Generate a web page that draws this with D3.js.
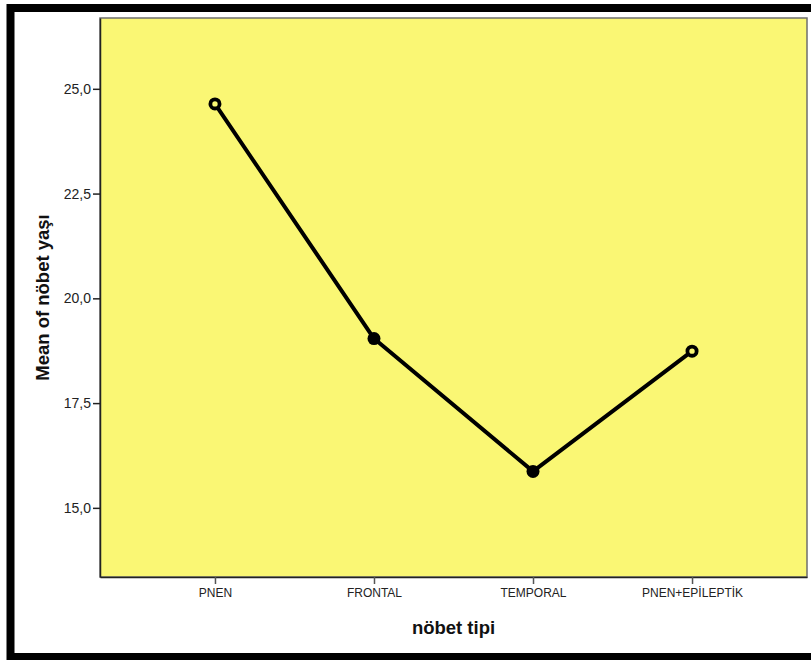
<!DOCTYPE html>
<html>
<head>
<meta charset="utf-8">
<script src="https://cdn.jsdelivr.net/npm/d3@7"></script>
<style>
  html, body { margin: 0; padding: 0; background: #fff; }
  svg { display: block; }
  text { font-family: "Liberation Sans", Arial, sans-serif; }
</style>
</head>
<body>
<script>
// Mean age at seizure onset by seizure type
const categories = ["PNEN", "FRONTAL", "TEMPORAL", "PNEN+EPİLEPTİK"];
const meanAge = [24.64, 19.04, 15.87, 18.74];
const hollowMarker = [true, false, false, true];
const yTicks = [15, 17.5, 20, 22.5, 25];
const xTitle = "nöbet tipi";
const yTitle = "Mean of nöbet yaşı";

const W = 811, H = 660;
const plot = { left: 100, right: 807, top: 18, bottom: 577 };

const svg = d3.select("body").append("svg")
  .attr("width", W).attr("height", H);

// Outer frame
svg.append("rect")
  .attr("x", 10.5).attr("y", 8)
  .attr("width", 830).attr("height", 649)
  .attr("fill", "#fff")
  .attr("stroke", "#000")
  .attr("stroke-width", 8);

const x = d3.scalePoint()
  .domain(categories)
  .range([plot.left, plot.right])
  .padding(0.723);

const y = d3.scaleLinear()
  .domain([13.35, 26.69])
  .range([plot.bottom, plot.top]);

// Plot background
svg.append("rect")
  .attr("x", plot.left).attr("y", plot.top)
  .attr("width", plot.right - plot.left)
  .attr("height", plot.bottom - plot.top)
  .attr("fill", "#faf774")
  .attr("stroke", "#6e6e6e")
  .attr("stroke-width", 1.5);

const fmt = d => d.toFixed(1).replace(".", ",");

// Y axis
const yAxis = svg.append("g")
  .attr("transform", `translate(${plot.left},0)`)
  .call(d3.axisLeft(y).tickValues(yTicks).tickFormat(fmt)
    .tickSizeInner(7).tickSizeOuter(0).tickPadding(2));
yAxis.select(".domain").attr("stroke", "#222").attr("stroke-width", 1.5);
yAxis.selectAll(".tick line").attr("stroke", "#222").attr("stroke-width", 1.5);
yAxis.selectAll(".tick text")
  .attr("fill", "#222")
  .style("font-family", "'Liberation Sans', Arial, sans-serif")
  .style("font-size", "14px");

// X axis
const xAxis = svg.append("g")
  .attr("transform", `translate(0,${plot.bottom})`)
  .call(d3.axisBottom(x).tickSizeInner(7).tickSizeOuter(0).tickPadding(4));
xAxis.select(".domain").attr("stroke", "#222").attr("stroke-width", 1.5);
xAxis.selectAll(".tick line").attr("stroke", "#555").attr("stroke-width", 1.5);
xAxis.selectAll(".tick text")
  .attr("fill", "#222")
  .style("font-family", "'Liberation Sans', Arial, sans-serif")
  .style("font-size", "12px");

// Axis titles
svg.append("text")
  .attr("x", (plot.left + plot.right) / 2)
  .attr("y", 634)
  .attr("text-anchor", "middle")
  .style("font-size", "18.5px")
  .style("font-weight", "bold")
  .attr("fill", "#111")
  .text(xTitle);

svg.append("text")
  .attr("transform", `translate(49,${(plot.top + plot.bottom) / 2}) rotate(-90)`)
  .attr("text-anchor", "middle")
  .style("font-size", "18.5px")
  .style("font-weight", "bold")
  .attr("fill", "#111")
  .text(yTitle);

// Mean line
const data = categories.map((c, i) => ({ c, v: meanAge[i], hollow: hollowMarker[i] }));

svg.append("path")
  .datum(data)
  .attr("fill", "none")
  .attr("stroke", "#000")
  .attr("stroke-width", 4)
  .attr("stroke-linejoin", "round")
  .attr("d", d3.line().x(d => x(d.c)).y(d => y(d.v)));

svg.selectAll("circle.pt")
  .data(data)
  .join("circle")
  .attr("class", "pt")
  .attr("cx", d => x(d.c))
  .attr("cy", d => y(d.v))
  .attr("r", d => d.hollow ? 4.6 : 6.5)
  .attr("fill", d => d.hollow ? "#faf774" : "#000")
  .attr("stroke", "#000")
  .attr("stroke-width", d => d.hollow ? 3.8 : 0);
</script>
</body>
</html>
